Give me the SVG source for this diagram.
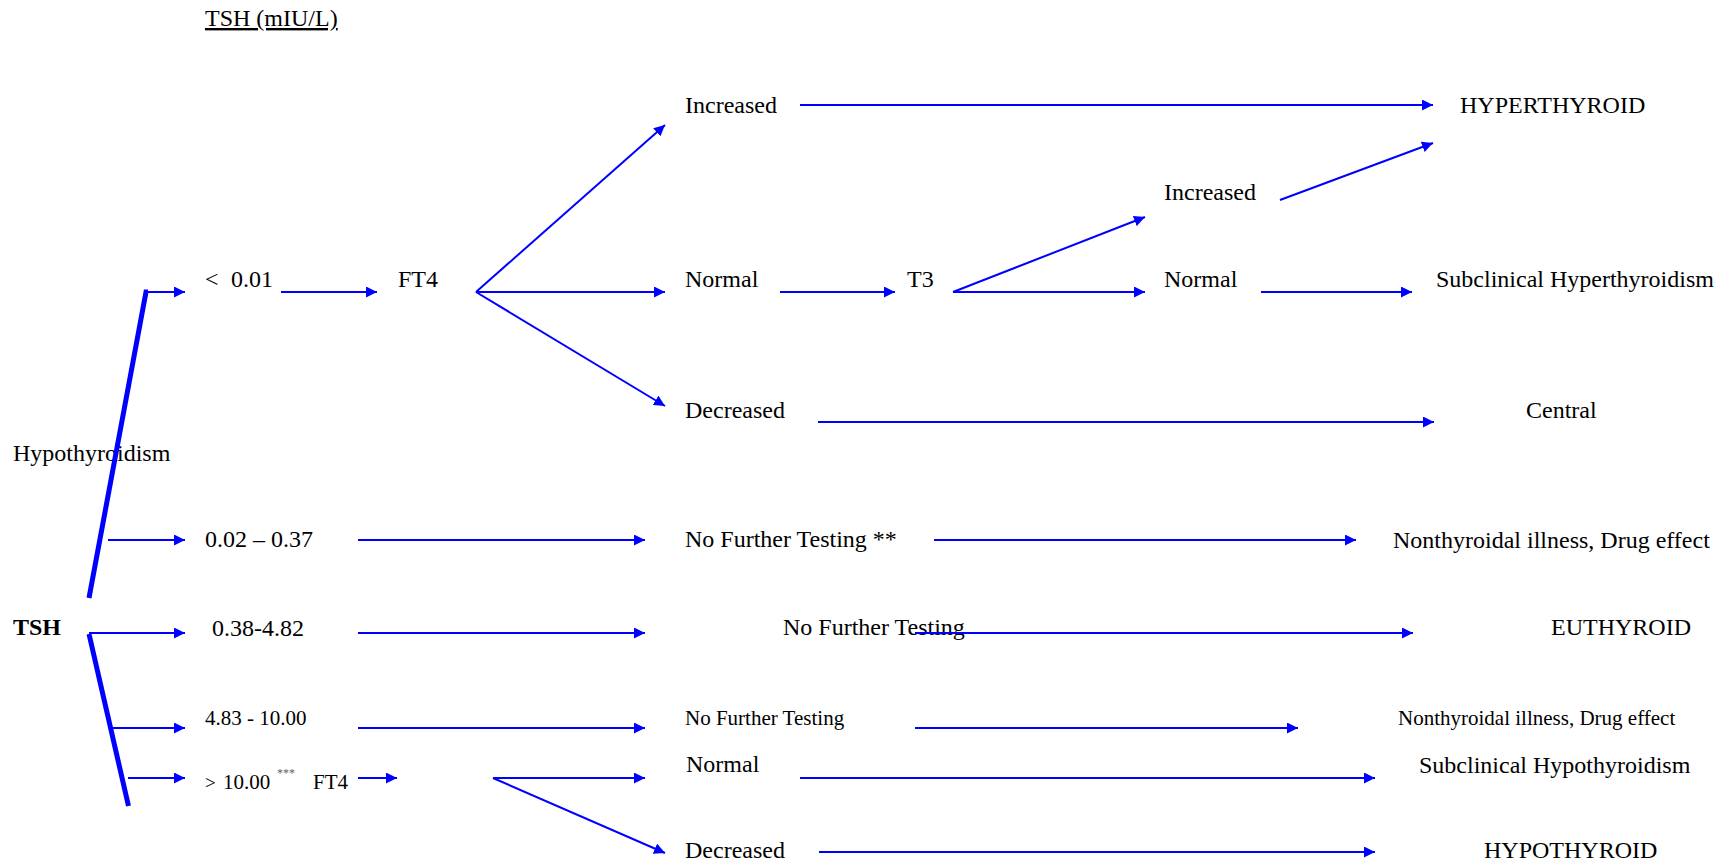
<svg xmlns="http://www.w3.org/2000/svg" width="1732" height="866" viewBox="0 0 1732 866">
<style>
text{font-family:"Liberation Serif","Times New Roman",serif;font-size:24px;fill:#000}
.sm{font-size:21px}
.b{font-weight:bold}
.sup{font-size:12px;fill:#606060}
.c line{stroke:#0000FF;stroke-width:2;marker-end:url(#ah)}
.thick{stroke:#0000FF;stroke-width:5;fill:none}
</style>
<defs>
<marker id="ah" markerUnits="userSpaceOnUse" markerWidth="11" markerHeight="11" refX="11" refY="5.5" orient="auto">
<path d="M0,0 L11,5.5 L0,11 z" fill="#0000FF"/>
</marker>
</defs>
<rect width="1732" height="866" fill="#fff"/>
<g id="title"><text x="205" y="26" text-decoration="underline">TSH (mIU/L)</text></g>
<g id="n-tsh"><text class="b" x="13" y="635">TSH</text></g>
<g id="n-hypothyroidism"><text x="13" y="461">Hypothyroidism</text></g>
<g id="n-lt001"><text x="205" y="287"><tspan x="205">&lt;</tspan><tspan x="231">0.01</tspan></text></g>
<g id="n-ft4a"><text x="398" y="287">FT4</text></g>
<g id="n-inc1"><text x="685" y="112.7">Increased</text></g>
<g id="n-hyper"><text x="1460" y="112.7">HYPERTHYROID</text></g>
<g id="n-norm1"><text x="685" y="287">Normal</text></g>
<g id="n-t3"><text x="907" y="287">T3</text></g>
<g id="n-inc2"><text x="1164" y="200">Increased</text></g>
<g id="n-norm2"><text x="1164" y="287">Normal</text></g>
<g id="n-subhyper"><text x="1436" y="287">Subclinical Hyperthyroidism</text></g>
<g id="n-dec1"><text x="685" y="418">Decreased</text></g>
<g id="n-central"><text x="1526" y="418">Central</text></g>
<g id="n-r2"><text x="205" y="547">0.02 – 0.37</text></g>
<g id="n-nft1"><text x="685" y="547">No Further Testing **</text></g>
<g id="n-ntid1"><text x="1393" y="548">Nonthyroidal illness, Drug effect</text></g>
<g id="n-r3"><text x="212" y="635.5">0.38-4.82</text></g>
<g id="n-nft2"><text x="783" y="635">No Further Testing</text></g>
<g id="n-euthyroid"><text x="1551" y="635">EUTHYROID</text></g>
<g id="n-r4"><text class="sm" x="205" y="725">4.83 - 10.00</text></g>
<g id="n-nft3"><text class="sm" x="685" y="725">No Further Testing</text></g>
<g id="n-ntid2"><text class="sm" x="1398" y="725">Nonthyroidal illness, Drug effect</text></g>
<g id="n-r5"><text class="sm" x="205" y="789"><tspan style="font-size:19px">&gt;</tspan><tspan x="223">10.00</tspan><tspan class="sup" x="277" y="777">***</tspan></text></g>
<g id="n-ft4b"><text class="sm" x="313" y="789">FT4</text></g>
<g id="n-norm3"><text x="686" y="772">Normal</text></g>
<g id="n-subhypo"><text x="1419" y="773">Subclinical Hypothyroidism</text></g>
<g id="n-dec2"><text x="685" y="858">Decreased</text></g>
<g id="n-hypo"><text x="1484" y="858">HYPOTHYROID</text></g>
<g id="connectors">
<polyline class="thick" points="89,598 146,292 148,292"/>
<line class="thick" x1="89" y1="634" x2="128.5" y2="806"/>
<g class="c">
<line x1="146" y1="292" x2="185" y2="292"/>
<line x1="281" y1="292" x2="377" y2="292"/>
<line x1="476" y1="292" x2="665" y2="125"/>
<line x1="476" y1="292" x2="665" y2="292"/>
<line x1="476" y1="292" x2="665" y2="406"/>
<line x1="800" y1="105" x2="1433" y2="105"/>
<line x1="780" y1="292" x2="895" y2="292"/>
<line x1="953" y1="292" x2="1145" y2="217"/>
<line x1="953" y1="292" x2="1145" y2="292"/>
<line x1="1280" y1="200" x2="1433" y2="143"/>
<line x1="1261" y1="292" x2="1412" y2="292"/>
<line x1="818" y1="422" x2="1434" y2="422"/>
<line x1="108" y1="540" x2="185" y2="540"/>
<line x1="358" y1="540" x2="645" y2="540"/>
<line x1="934" y1="540" x2="1356" y2="540"/>
<line x1="89" y1="633" x2="185" y2="633"/>
<line x1="358" y1="633" x2="645" y2="633"/>
<line x1="915" y1="633" x2="1413" y2="633"/>
<line x1="113" y1="728" x2="185" y2="728"/>
<line x1="358" y1="728" x2="645" y2="728"/>
<line x1="915" y1="728" x2="1298" y2="728"/>
<line x1="128" y1="778" x2="185" y2="778"/>
<line x1="358" y1="778" x2="397" y2="778"/>
<line x1="493" y1="778" x2="645" y2="778"/>
<line x1="493" y1="778" x2="665" y2="853"/>
<line x1="800" y1="778" x2="1375" y2="778"/>
<line x1="819" y1="852" x2="1375" y2="852"/>
</g>
</g>
</svg>
